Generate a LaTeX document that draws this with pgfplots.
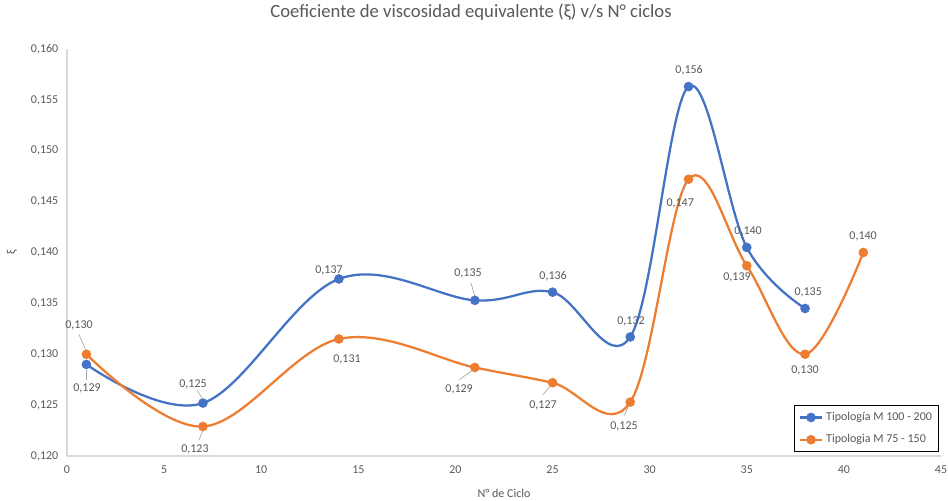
\documentclass[border=0pt]{standalone}
\usepackage{fontspec}
\setmainfont{Carlito}
\usepackage{pgfplots}
\usepackage{pgfplotstable}
\pgfplotsset{compat=1.18}
\definecolor{xlblue}{HTML}{4472C4}
\definecolor{xlorange}{HTML}{ED7D31}
\definecolor{xltext}{HTML}{595959}
\definecolor{xlaxis}{HTML}{D9D9D9}
\definecolor{xllead}{HTML}{A6A6A6}

\pgfplotstableread{
x y
1 0.1290
7 0.1252
14 0.1374
21 0.1353
25 0.1361
29 0.1317
32 0.1563
35 0.1405
38 0.1345
}\tipA
\pgfplotstableread{
x y
1 0.1300
7 0.1229
14 0.1315
21 0.1287
25 0.1272
29 0.1253
32 0.1472
35 0.1387
38 0.1300
41 0.1400
}\tipB

\begin{document}
\begin{tikzpicture}
\useasboundingbox (-50.25pt,-33pt) rectangle (660.75pt,342pt);
\begin{axis}[
  scale only axis,
  width=655.5pt, height=305.25pt,
  xmin=0, xmax=45, ymin=0.120, ymax=0.160,
  xtick={0,5,...,45},
  ytick={0.120,0.125,...,0.1601},
  axis lines=left,
  axis line style={xlaxis, line width=0.9pt, -},
  major tick length=0pt,
  tick label style={font=\fontsize{9}{10}\selectfont, text=xltext},
  x tick label style={yshift=-4pt},
  y tick label style={xshift=-3pt},
  yticklabel style={/pgf/number format/.cd, use comma, fixed, fixed zerofill,
    precision=3, assume math mode=true},
  xticklabel style={/pgf/number format/.cd, fixed, precision=0,
    assume math mode=true},
  title={Coeficiente de viscosidad equivalente (ξ) v/s N° ciclos},
  title style={font=\fontsize{14}{16}\selectfont, text=xltext,
    at={(0.4623,1)}, anchor=center, yshift=21.5pt},
  xlabel={N° de Ciclo},
  x label style={font=\fontsize{9}{10}\selectfont, text=xltext,
    at={(0.5,0)}, anchor=center, yshift=-27.75pt},
  legend style={at={(1,0)}, anchor=south east, xshift=-1.5pt, yshift=3pt,
    draw=black, line width=0.6pt, font=\fontsize{9}{10}\selectfont,
    text=xltext, inner sep=3pt, row sep=5pt},
  legend cell align=left,
  every axis plot/.append style={line width=1.7pt, smooth, tension=0.6,
    mark=*, mark size=2.7pt},
  clip=false,
]
\addplot[xlblue, mark options={fill=xlblue, draw=xlblue}] table {\tipA};
\addlegendentry{Tipología M 100 - 200}
\addplot[xlorange, mark options={fill=xlorange, draw=xlorange}] table {\tipB};
\addlegendentry{Tipologia M 75 - 150}

% y axis title, rotated as in the reference
\node[font=\fontsize{9}{10}\selectfont, text=xltext, rotate=90]
  at ([xshift=-41.25pt]rel axis cs:0,0.5) {ξ};

% leader lines
\begin{scope}[xllead, line width=0.5pt]
\draw (axis cs:1,0.1275) -- (axis cs:1,0.1285);
\draw (axis cs:6.7,0.1265) -- (axis cs:7,0.1255);
\draw (axis cs:20.8,0.1370) -- (axis cs:21,0.1357);
\draw (axis cs:0.6,0.1320) -- (axis cs:0.95,0.1305);
\draw (axis cs:6.8,0.1216) -- (axis cs:7,0.1225);
\draw (axis cs:20.2,0.1275) -- (axis cs:20.85,0.1284);
\draw (axis cs:24.5,0.1260) -- (axis cs:24.85,0.1268);
\draw (axis cs:28.7,0.1240) -- (axis cs:28.9,0.1249);
\draw (axis cs:31.7,0.1460) -- (axis cs:31.9,0.1468);
\end{scope}

% data labels
\begin{scope}[every node/.style={font=\fontsize{9}{10}\selectfont, text=xltext,
  inner sep=1pt, fill=none}]
\node at (axis cs:1.03,0.12668) {0,129};
\node at (axis cs:6.49,0.12708) {0,125};
\node at (axis cs:13.49,0.13828) {0,137};
\node at (axis cs:20.65,0.13799) {0,135};
\node at (axis cs:25.03,0.13769) {0,136};
\node at (axis cs:29.04,0.13327) {0,132};
\node at (axis cs:32.03,0.15794) {0,156};
\node at (axis cs:35.07,0.14211) {0,140};
\node at (axis cs:38.16,0.13612) {0,135};
\node at (axis cs:0.62,0.13287) {0,130};
\node at (axis cs:6.59,0.12069) {0,123};
\node at (axis cs:14.42,0.12953) {0,131};
\node at (axis cs:20.19,0.12658) {0,129};
\node at (axis cs:24.51,0.12501) {0,127};
\node at (axis cs:28.68,0.12295) {0,125};
\node at (axis cs:31.57,0.14487) {0,147};
\node at (axis cs:34.50,0.13759) {0,139};
\node at (axis cs:38.00,0.12845) {0,130};
\node at (axis cs:40.99,0.14162) {0,140};
\end{scope}
\end{axis}
\end{tikzpicture}
\end{document}
